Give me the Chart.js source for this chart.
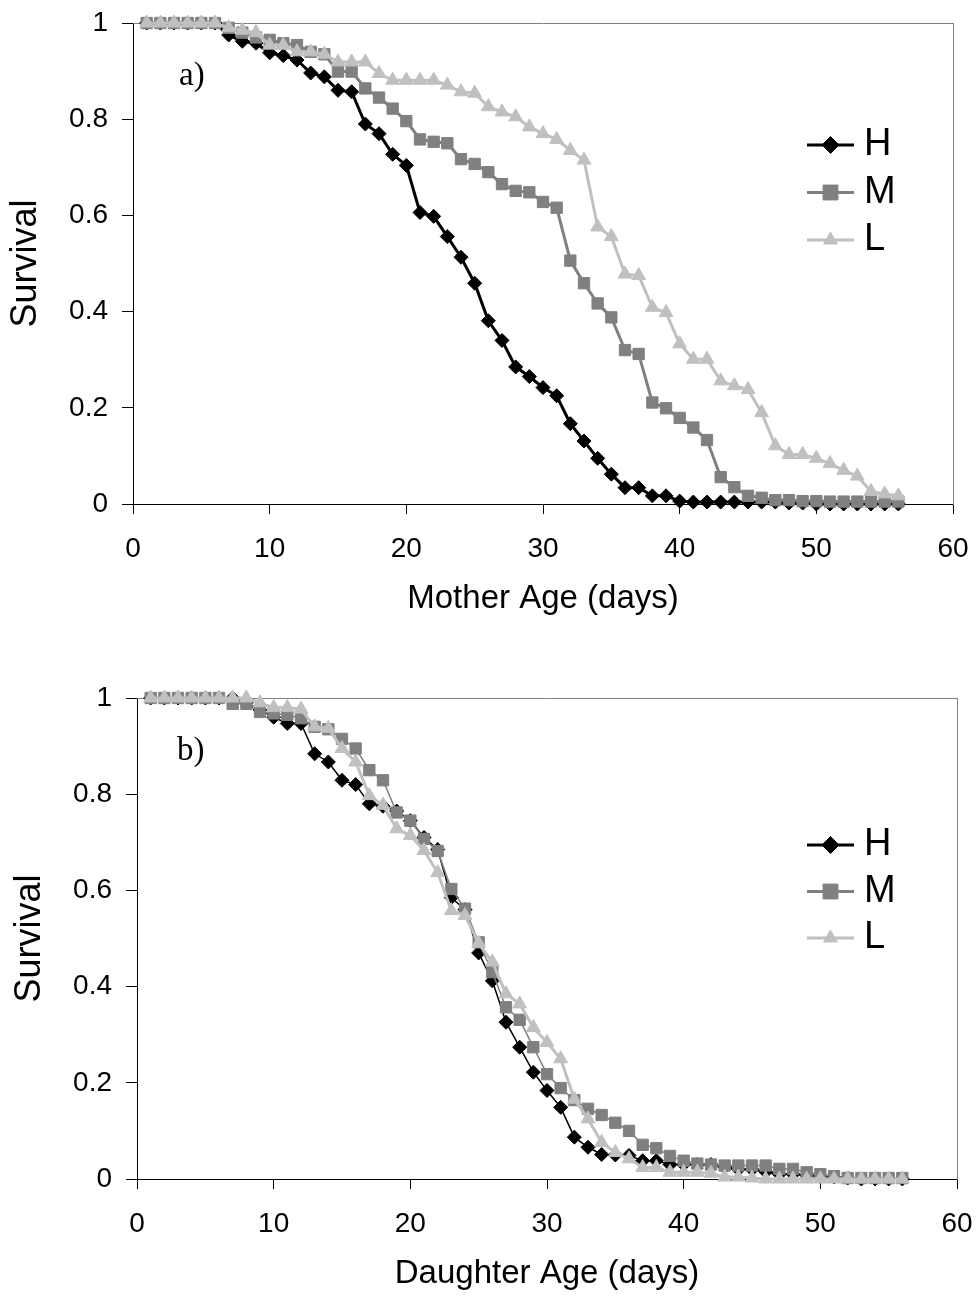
<!DOCTYPE html>
<html>
<head>
<meta charset="utf-8">
<script src="https://cdn.jsdelivr.net/npm/chart.js@4.4.0/dist/chart.umd.min.js"></script>
<style>
  html, body { margin: 0; padding: 0; background: #ffffff; }
  #wrap { position: relative; width: 976px; height: 1306px; overflow: hidden; }
  canvas { position: absolute; left: 0; }
  #cA { top: 0; }
  #cB { top: 650px; }
</style>
</head>
<body>
<div id="wrap">
  <canvas id="cA" width="976" height="650"></canvas>
  <canvas id="cB" width="976" height="656"></canvas>
</div>
<script>
// ---------------- data ----------------
const days = [1,2,3,4,5,6,7,8,9,10,11,12,13,14,15,16,17,18,19,20,21,22,23,24,25,26,27,28,
              29,30,31,32,33,34,35,36,37,38,39,40,41,42,43,44,45,46,47,48,49,50,51,52,53,54,55,56];

const seriesLabels = ['H', 'M', 'L'];

// a) Mother survival
const motherH = [1,1,1,1,1,1,
  0.975,0.962,0.958,0.938,0.932,0.923,0.896,0.888,0.86,0.857,
  0.79,0.77,0.727,0.704,0.606,0.598,0.556,0.513,0.459,0.381,
  0.34,0.285,0.265,0.242,0.225,0.167,0.131,0.095,0.062,0.034,
  0.034,0.017,0.017,0.006,0.004,0.004,0.004,0.004,0.004,0.004,
  0.004,0.002,0.002,0,0,0,0,0,0,0];
const motherM = [1,1,1,1,1,1,
  0.99,0.98,0.97,0.965,0.958,0.954,0.94,0.935,0.899,0.899,
  0.864,0.845,0.822,0.796,0.758,0.753,0.75,0.717,0.707,0.69,
  0.665,0.651,0.648,0.628,0.616,0.506,0.459,0.417,0.388,0.32,
  0.312,0.211,0.199,0.179,0.159,0.133,0.056,0.035,0.017,0.013,
  0.008,0.008,0.006,0.006,0.005,0.005,0.005,0.005,0.005,0.005];
const motherL = [1,1,1,1,1,1,
  0.99,0.985,0.98,0.954,0.954,0.94,0.94,0.935,0.919,0.919,
  0.919,0.895,0.881,0.881,0.881,0.881,0.871,0.857,0.854,0.826,
  0.815,0.805,0.784,0.77,0.758,0.735,0.715,0.576,0.556,0.478,
  0.475,0.409,0.398,0.333,0.301,0.301,0.256,0.246,0.238,0.19,
  0.121,0.103,0.103,0.095,0.084,0.07,0.058,0.026,0.021,0.017];

// b) Daughter survival
const daughterH = [1,1,1,1,1,1,1,
  0.99,0.975,0.96,0.947,0.947,0.884,0.867,0.829,0.82,
  0.78,0.775,0.765,0.745,0.71,0.685,0.585,0.56,0.47,0.412,
  0.326,0.274,0.222,0.184,0.149,0.087,0.066,0.051,0.05,0.049,
  0.038,0.038,0.03,0.03,0.03,0.03,0.025,0.02,0.02,0.015,
  0.01,0.01,0.008,0.005,0.004,0.002,0,0,0,0];
const daughterM = [1,1,1,1,1,1,
  0.988,0.988,0.971,0.968,0.965,0.958,0.94,0.935,0.915,0.895,
  0.85,0.829,0.762,0.745,0.707,0.682,0.603,0.562,0.492,0.43,
  0.357,0.331,0.274,0.218,0.189,0.164,0.146,0.133,0.117,0.1,
  0.071,0.064,0.048,0.038,0.032,0.03,0.028,0.028,0.028,0.028,
  0.021,0.021,0.014,0.01,0.006,0.002,0.002,0.002,0.002,0.002];
const daughterL = [1,1,1,1,1,1,1,1,
  0.99,0.98,0.98,0.977,0.94,0.937,0.895,0.867,
  0.797,0.777,0.728,0.714,0.683,0.637,0.558,0.548,0.49,0.451,
  0.385,0.364,0.315,0.284,0.25,0.166,0.125,0.076,0.055,0.042,
  0.024,0.024,0.014,0.014,0.014,0.012,0.004,0.004,0.002,0,
  0,0,0,0,0,0,0,0,0,0];

// ticks
const xTickValues = [0, 10, 20, 30, 40, 50, 60];
const xTickLabels = ['0', '10', '20', '30', '40', '50', '60'];
const yTickValues = [0, 0.2, 0.4, 0.6, 0.8, 1];
const yTickLabels = ['0', '0.2', '0.4', '0.6', '0.8', '1'];

// ---------------- styling ----------------
const FONT = "'Liberation Sans', Arial, Helvetica, sans-serif";
const SERIF = "'Liberation Serif', 'Times New Roman', serif";
const COLORS = ['#000000', '#808080', '#c0c0c0'];
const STYLES = ['rectRot', 'rect', 'triangle'];
const RADII = [7, 8, 8];
const ORDERS = [2, 1, 0];

const toPoints = (arr) => days.map((d, i) => ({ x: d, y: arr[i] }));

function makeDatasets(seriesArrays, lineWidths) {
  return seriesArrays.map((arr, i) => ({
    label: seriesLabels[i],
    data: toPoints(arr),
    borderColor: COLORS[i],
    backgroundColor: COLORS[i],
    pointBackgroundColor: COLORS[i],
    pointBorderColor: COLORS[i],
    pointBorderWidth: 1,
    pointStyle: STYLES[i],
    pointRadius: RADII[i],
    borderWidth: lineWidths[i],
    tension: 0,
    clip: false,
    order: ORDERS[i]
  }));
}

// panel label + Excel-style legend (line with marker)
const panelDecor = {
  id: 'panelDecor',
  afterDatasetsDraw(chart, args, o) {
    const ctx = chart.ctx;
    const ca = chart.chartArea;
    ctx.save();
    ctx.fillStyle = '#000';
    ctx.font = o.labelFont;
    ctx.textAlign = 'left';
    ctx.textBaseline = 'alphabetic';
    ctx.fillText(o.label, ca.left + o.labelDx, ca.top + o.labelDy);

    chart.data.datasets.forEach((ds, i) => {
      const y = o.legendY + i * o.legendGap;
      ctx.strokeStyle = ds.borderColor;
      ctx.lineWidth = o.legendLineWidth;
      ctx.beginPath();
      ctx.moveTo(o.legendX, y);
      ctx.lineTo(o.legendX + o.legendLen, y);
      ctx.stroke();
      ctx.fillStyle = ds.pointBackgroundColor;
      ctx.strokeStyle = ds.pointBorderColor;
      ctx.lineWidth = 1;
      Chart.helpers.drawPoint(ctx, { pointStyle: ds.pointStyle, rotation: 0, radius: o.legendRadii[i], borderWidth: 1 },
        o.legendX + o.legendLen / 2, y);
      ctx.fillStyle = '#000';
      ctx.font = o.legendFont;
      ctx.textAlign = 'left';
      ctx.textBaseline = 'middle';
      ctx.fillText(ds.label, o.legendX + o.legendLen + o.legendTextGap, y);
    });
    ctx.restore();
  }
};

function buildConfig(p) {
  return {
    type: 'line',
    data: { datasets: makeDatasets(p.series, p.lineWidths) },
    plugins: [panelDecor],
    options: {
      responsive: false,
      animation: false,
      events: [],
      layout: { padding: { top: p.padTop, right: p.padRight, left: 0, bottom: 0 } },
      plugins: {
        legend: { display: false },
        tooltip: { enabled: false },
        panelDecor: {
          label: p.panelLabel, labelFont: '33px ' + SERIF, labelDx: p.labelDx, labelDy: 62,
          legendX: 807, legendY: p.legendY, legendGap: p.legendGap, legendLen: 47,
          legendLineWidth: 3, legendRadii: [8.5, 10.5, 8], legendTextGap: 10,
          legendFont: '38px ' + FONT
        }
      },
      scales: {
        x: {
          type: 'linear', position: 'bottom', min: 0, max: 60,
          afterBuildTicks: (s) => { s.ticks = xTickValues.map(v => ({ value: v })); },
          afterFit: (s) => { s.height = p.xAxisHeight; s.paddingLeft = 0; s.paddingRight = 0; },
          ticks: {
            callback: (v, i) => xTickLabels[i],
            color: '#000', font: { family: FONT, size: 28 }, padding: 18,
            maxRotation: 0, autoSkip: false
          },
          grid: { display: true, drawOnChartArea: false, drawTicks: true, tickLength: 10, color: '#000', lineWidth: 1 },
          border: { display: true, color: '#000', width: 1 },
          title: {
            display: true, text: p.xTitle, color: '#000',
            font: { family: FONT, size: 33 }, padding: { top: 0, bottom: p.xTitlePad }
          }
        },
        y: {
          type: 'linear', position: 'left', min: 0, max: 1,
          afterBuildTicks: (s) => { s.ticks = yTickValues.map(v => ({ value: v })); },
          afterFit: (s) => { s.width = p.yAxisWidth; s.paddingTop = 0; s.paddingBottom = 0; },
          ticks: {
            callback: (v, i) => yTickLabels[i],
            color: '#000', font: { family: FONT, size: 28 }, padding: 14, autoSkip: false
          },
          grid: { display: true, drawOnChartArea: false, drawTicks: true, tickLength: 11, color: '#000', lineWidth: 1 },
          border: { display: true, color: '#000', width: 1 },
          title: {
            display: true, text: 'Survival', color: '#000',
            font: { family: FONT, size: 36 }, padding: { top: p.yTitlePad, bottom: 0 }
          }
        },
        x2: {
          type: 'linear', position: 'top', min: 0, max: 60,
          ticks: { display: false }, grid: { display: false },
          border: { display: true, color: '#808080', width: 1 },
          afterFit: (s) => { s.height = 0; s.paddingLeft = 0; s.paddingRight = 0; }
        },
        y2: {
          type: 'linear', position: 'right', min: 0, max: 1,
          ticks: { display: false }, grid: { display: false },
          border: { display: true, color: '#808080', width: 1 },
          afterFit: (s) => { s.width = 0; s.paddingTop = 0; s.paddingBottom = 0; }
        }
      }
    }
  };
}

new Chart(document.getElementById('cA'), buildConfig({
  series: [motherH, motherM, motherL], lineWidths: [3, 3, 3],
  padTop: 23, padRight: 23, yAxisWidth: 133, xAxisHeight: 146,
  xTitle: 'Mother Age (days)', xTitlePad: 31.2, yTitlePad: 4.4,
  panelLabel: 'a)', labelDx: 46, legendY: 145, legendGap: 47.5
}));

new Chart(document.getElementById('cB'), buildConfig({
  series: [daughterH, daughterM, daughterL], lineWidths: [1.5, 1.5, 3],
  padTop: 48, padRight: 19, yAxisWidth: 137, xAxisHeight: 127,
  xTitle: 'Daughter Age (days)', xTitlePad: 12.2, yTitlePad: 8.4,
  panelLabel: 'b)', labelDx: 40, legendY: 195, legendGap: 46.5
}));
</script>
</body>
</html>
